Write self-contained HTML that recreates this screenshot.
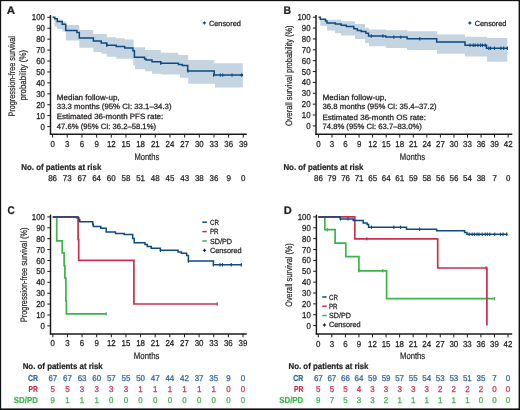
<!DOCTYPE html><html><head><meta charset="utf-8"><style>html,body{margin:0;padding:0;background:#fff;width:520px;height:410px;overflow:hidden;}svg{display:block;will-change:transform;}</style></head><body>
<svg width="520" height="410" viewBox="0 0 520 410" text-rendering="geometricPrecision" font-family='"Liberation Sans", sans-serif'>
<rect x="0" y="0" width="520" height="410" fill="#fff"/>
<path d="M52.6,17.6 H57.3 V19.4 H62.2 V21.3 H65.8 V25.1 H79.3 V30.0 H93.2 V34.1 H106.8 V37.2 H116.2 V38.2 H124.7 V39.5 H133.6 V47.3 H145 V49.9 H160.8 V52.7 H178.2 V54.9 H188.2 V59.9 H214.2 V63.3 H242.8 V87.4 H215 V83.8 H188.2 V77.7 H180 V74.6 H160.8 V73.7 H152 V71.3 H145 V69.3 H135 V65.4 H133.2 V58.7 H116.2 V56.7 H106.8 V53.8 H101.2 V52.0 H93.4 V47.8 H79.3 V40.6 H65.8 V31.5 H62.2 V29.0 H57.3 V26.5 H54.4 V18.0 H52.6 Z" fill="#c5d4e1" stroke="none"/>
<path d="M52.6,17.3 H54.8 V18.8 H57.3 V21.4 H62.2 V24.3 H65.7 V30.4 H76.9 V32.5 H79.3 V37.9 H93.4 V41.1 H101.2 V43.1 H106.8 V45.3 H116.2 V46.5 H124.7 V48.1 H132.9 V50.7 H134.4 V57.3 H144.6 V59.0 H146.1 V60.0 H152.0 V61.7 H160.8 V63.2 H178.4 V64.5 H182.3 V65.6 H187.7 V71.0 H214.2 V75.1 H242.5" stroke="#0c4a80" stroke-width="1.5" fill="none" stroke-linejoin="miter" stroke-linecap="butt"/>
<line x1="106.8" y1="43.599999999999994" x2="106.8" y2="47.0" stroke="#0c4a80" stroke-width="1.1"/>
<line x1="160.8" y1="61.5" x2="160.8" y2="64.9" stroke="#0c4a80" stroke-width="1.1"/>
<line x1="188.0" y1="69.3" x2="188.0" y2="72.7" stroke="#0c4a80" stroke-width="1.1"/>
<line x1="213.6" y1="73.39999999999999" x2="213.6" y2="76.8" stroke="#0c4a80" stroke-width="1.1"/>
<line x1="220.3" y1="73.39999999999999" x2="220.3" y2="76.8" stroke="#0c4a80" stroke-width="1.1"/>
<line x1="222.7" y1="73.39999999999999" x2="222.7" y2="76.8" stroke="#0c4a80" stroke-width="1.1"/>
<line x1="232" y1="73.39999999999999" x2="232" y2="76.8" stroke="#0c4a80" stroke-width="1.1"/>
<line x1="241.7" y1="73.39999999999999" x2="241.7" y2="76.8" stroke="#0c4a80" stroke-width="1.1"/>
<circle cx="241.8" cy="75.1" r="1.4" fill="#0c4a80"/>
<line x1="50.5" y1="15.0" x2="50.5" y2="134.79999999999998" stroke="#1a1a1a" stroke-width="1.45"/>
<line x1="49.85" y1="134.2" x2="246.8" y2="134.2" stroke="#1a1a1a" stroke-width="1.45"/>
<line x1="47.3" y1="17.3" x2="50.5" y2="17.3" stroke="#1a1a1a" stroke-width="1"/>
<line x1="47.3" y1="28.23" x2="50.5" y2="28.23" stroke="#1a1a1a" stroke-width="1"/>
<line x1="47.3" y1="39.16" x2="50.5" y2="39.16" stroke="#1a1a1a" stroke-width="1"/>
<line x1="47.3" y1="50.09" x2="50.5" y2="50.09" stroke="#1a1a1a" stroke-width="1"/>
<line x1="47.3" y1="61.019999999999996" x2="50.5" y2="61.019999999999996" stroke="#1a1a1a" stroke-width="1"/>
<line x1="47.3" y1="71.95" x2="50.5" y2="71.95" stroke="#1a1a1a" stroke-width="1"/>
<line x1="47.3" y1="82.88" x2="50.5" y2="82.88" stroke="#1a1a1a" stroke-width="1"/>
<line x1="47.3" y1="93.81" x2="50.5" y2="93.81" stroke="#1a1a1a" stroke-width="1"/>
<line x1="47.3" y1="104.74" x2="50.5" y2="104.74" stroke="#1a1a1a" stroke-width="1"/>
<line x1="47.3" y1="115.66999999999999" x2="50.5" y2="115.66999999999999" stroke="#1a1a1a" stroke-width="1"/>
<line x1="47.3" y1="126.6" x2="50.5" y2="126.6" stroke="#1a1a1a" stroke-width="1"/>
<line x1="52.6" y1="134.2" x2="52.6" y2="137.6" stroke="#1a1a1a" stroke-width="1"/>
<line x1="67.27" y1="134.2" x2="67.27" y2="137.6" stroke="#1a1a1a" stroke-width="1"/>
<line x1="81.94" y1="134.2" x2="81.94" y2="137.6" stroke="#1a1a1a" stroke-width="1"/>
<line x1="96.61" y1="134.2" x2="96.61" y2="137.6" stroke="#1a1a1a" stroke-width="1"/>
<line x1="111.28" y1="134.2" x2="111.28" y2="137.6" stroke="#1a1a1a" stroke-width="1"/>
<line x1="125.94999999999999" y1="134.2" x2="125.94999999999999" y2="137.6" stroke="#1a1a1a" stroke-width="1"/>
<line x1="140.62" y1="134.2" x2="140.62" y2="137.6" stroke="#1a1a1a" stroke-width="1"/>
<line x1="155.29" y1="134.2" x2="155.29" y2="137.6" stroke="#1a1a1a" stroke-width="1"/>
<line x1="169.96" y1="134.2" x2="169.96" y2="137.6" stroke="#1a1a1a" stroke-width="1"/>
<line x1="184.63" y1="134.2" x2="184.63" y2="137.6" stroke="#1a1a1a" stroke-width="1"/>
<line x1="199.29999999999998" y1="134.2" x2="199.29999999999998" y2="137.6" stroke="#1a1a1a" stroke-width="1"/>
<line x1="213.97" y1="134.2" x2="213.97" y2="137.6" stroke="#1a1a1a" stroke-width="1"/>
<line x1="228.64" y1="134.2" x2="228.64" y2="137.6" stroke="#1a1a1a" stroke-width="1"/>
<line x1="243.31" y1="134.2" x2="243.31" y2="137.6" stroke="#1a1a1a" stroke-width="1"/>
<text transform="translate(45.0,20.35) scale(0.92,1)" x="0" y="0" font-size="8.6" fill="#231f20" stroke="#231f20" stroke-width="0.26" text-anchor="end" font-weight="normal">100</text>
<text transform="translate(45.0,31.28) scale(0.92,1)" x="0" y="0" font-size="8.6" fill="#231f20" stroke="#231f20" stroke-width="0.26" text-anchor="end" font-weight="normal">90</text>
<text transform="translate(45.0,42.209999999999994) scale(0.92,1)" x="0" y="0" font-size="8.6" fill="#231f20" stroke="#231f20" stroke-width="0.26" text-anchor="end" font-weight="normal">80</text>
<text transform="translate(45.0,53.14) scale(0.92,1)" x="0" y="0" font-size="8.6" fill="#231f20" stroke="#231f20" stroke-width="0.26" text-anchor="end" font-weight="normal">70</text>
<text transform="translate(45.0,64.07) scale(0.92,1)" x="0" y="0" font-size="8.6" fill="#231f20" stroke="#231f20" stroke-width="0.26" text-anchor="end" font-weight="normal">60</text>
<text transform="translate(45.0,75.0) scale(0.92,1)" x="0" y="0" font-size="8.6" fill="#231f20" stroke="#231f20" stroke-width="0.26" text-anchor="end" font-weight="normal">50</text>
<text transform="translate(45.0,85.92999999999999) scale(0.92,1)" x="0" y="0" font-size="8.6" fill="#231f20" stroke="#231f20" stroke-width="0.26" text-anchor="end" font-weight="normal">40</text>
<text transform="translate(45.0,96.86) scale(0.92,1)" x="0" y="0" font-size="8.6" fill="#231f20" stroke="#231f20" stroke-width="0.26" text-anchor="end" font-weight="normal">30</text>
<text transform="translate(45.0,107.78999999999999) scale(0.92,1)" x="0" y="0" font-size="8.6" fill="#231f20" stroke="#231f20" stroke-width="0.26" text-anchor="end" font-weight="normal">20</text>
<text transform="translate(45.0,118.71999999999998) scale(0.92,1)" x="0" y="0" font-size="8.6" fill="#231f20" stroke="#231f20" stroke-width="0.26" text-anchor="end" font-weight="normal">10</text>
<text transform="translate(45.0,129.65) scale(0.92,1)" x="0" y="0" font-size="8.6" fill="#231f20" stroke="#231f20" stroke-width="0.26" text-anchor="end" font-weight="normal">0</text>
<text transform="translate(52.6,146.8) scale(0.92,1)" x="0" y="0" font-size="8.6" fill="#231f20" stroke="#231f20" stroke-width="0.26" text-anchor="middle" font-weight="normal">0</text>
<text transform="translate(67.27,146.8) scale(0.92,1)" x="0" y="0" font-size="8.6" fill="#231f20" stroke="#231f20" stroke-width="0.26" text-anchor="middle" font-weight="normal">3</text>
<text transform="translate(81.94,146.8) scale(0.92,1)" x="0" y="0" font-size="8.6" fill="#231f20" stroke="#231f20" stroke-width="0.26" text-anchor="middle" font-weight="normal">6</text>
<text transform="translate(96.61,146.8) scale(0.92,1)" x="0" y="0" font-size="8.6" fill="#231f20" stroke="#231f20" stroke-width="0.26" text-anchor="middle" font-weight="normal">9</text>
<text transform="translate(111.28,146.8) scale(0.92,1)" x="0" y="0" font-size="8.6" fill="#231f20" stroke="#231f20" stroke-width="0.26" text-anchor="middle" font-weight="normal">12</text>
<text transform="translate(125.94999999999999,146.8) scale(0.92,1)" x="0" y="0" font-size="8.6" fill="#231f20" stroke="#231f20" stroke-width="0.26" text-anchor="middle" font-weight="normal">15</text>
<text transform="translate(140.62,146.8) scale(0.92,1)" x="0" y="0" font-size="8.6" fill="#231f20" stroke="#231f20" stroke-width="0.26" text-anchor="middle" font-weight="normal">18</text>
<text transform="translate(155.29,146.8) scale(0.92,1)" x="0" y="0" font-size="8.6" fill="#231f20" stroke="#231f20" stroke-width="0.26" text-anchor="middle" font-weight="normal">21</text>
<text transform="translate(169.96,146.8) scale(0.92,1)" x="0" y="0" font-size="8.6" fill="#231f20" stroke="#231f20" stroke-width="0.26" text-anchor="middle" font-weight="normal">24</text>
<text transform="translate(184.63,146.8) scale(0.92,1)" x="0" y="0" font-size="8.6" fill="#231f20" stroke="#231f20" stroke-width="0.26" text-anchor="middle" font-weight="normal">27</text>
<text transform="translate(199.29999999999998,146.8) scale(0.92,1)" x="0" y="0" font-size="8.6" fill="#231f20" stroke="#231f20" stroke-width="0.26" text-anchor="middle" font-weight="normal">30</text>
<text transform="translate(213.97,146.8) scale(0.92,1)" x="0" y="0" font-size="8.6" fill="#231f20" stroke="#231f20" stroke-width="0.26" text-anchor="middle" font-weight="normal">33</text>
<text transform="translate(228.64,146.8) scale(0.92,1)" x="0" y="0" font-size="8.6" fill="#231f20" stroke="#231f20" stroke-width="0.26" text-anchor="middle" font-weight="normal">36</text>
<text transform="translate(243.31,146.8) scale(0.92,1)" x="0" y="0" font-size="8.6" fill="#231f20" stroke="#231f20" stroke-width="0.26" text-anchor="middle" font-weight="normal">39</text>
<text x="6.8" y="14.2" font-size="11" fill="#231f20" stroke="#231f20" stroke-width="0.22" text-anchor="start" font-weight="bold" textLength="8.3" lengthAdjust="spacingAndGlyphs">A</text>
<text transform="translate(15.0,76.3) rotate(-90)" x="0" y="0" font-size="9.4" fill="#231f20" stroke="#231f20" stroke-width="0.2" text-anchor="middle" textLength="80.5" lengthAdjust="spacingAndGlyphs">Progression-free survival</text>
<text transform="translate(26.0,75.2) rotate(-90)" x="0" y="0" font-size="9.4" fill="#231f20" stroke="#231f20" stroke-width="0.2" text-anchor="middle" textLength="50.5" lengthAdjust="spacingAndGlyphs">probability (%)</text>
<text x="134.4" y="159.8" font-size="9.4" fill="#231f20" stroke="#231f20" stroke-width="0.2" text-anchor="start" font-weight="normal" textLength="24.8" lengthAdjust="spacingAndGlyphs">Months</text>
<path d="M202.70000000000002,22.9 H206.1 M204.4,21.2 V24.599999999999998" stroke="#0c4a80" stroke-width="0.9" fill="none"/>
<rect x="203.5" y="22.0" width="1.8" height="1.8" fill="#0c4a80"/>
<text x="209.0" y="25.6" font-size="7.5" fill="#231f20" stroke="#231f20" stroke-width="0.26" text-anchor="start" font-weight="normal" textLength="31.8" lengthAdjust="spacingAndGlyphs">Censored</text>
<text x="56.8" y="99.5" font-size="7.7" fill="#231f20" stroke="#231f20" stroke-width="0.26" text-anchor="start" font-weight="normal" textLength="62.8" lengthAdjust="spacingAndGlyphs">Median follow-up,</text>
<text x="56.8" y="109.1" font-size="7.7" fill="#231f20" stroke="#231f20" stroke-width="0.26" text-anchor="start" font-weight="normal" textLength="114.7" lengthAdjust="spacingAndGlyphs">33.3 months (95% CI: 33.1–34.3)</text>
<text x="56.8" y="119.4" font-size="7.7" fill="#231f20" stroke="#231f20" stroke-width="0.26" text-anchor="start" font-weight="normal" textLength="106.4" lengthAdjust="spacingAndGlyphs">Estimated 36-month PFS rate:</text>
<text x="56.8" y="129.0" font-size="7.7" fill="#231f20" stroke="#231f20" stroke-width="0.26" text-anchor="start" font-weight="normal" textLength="99.2" lengthAdjust="spacingAndGlyphs">47.6% (95% CI: 36.2–58.1%)</text>
<text x="21.3" y="169.8" font-size="8.5" fill="#231f20" stroke="#231f20" stroke-width="0.22" text-anchor="start" font-weight="bold" textLength="80.0" lengthAdjust="spacingAndGlyphs">No. of patients at risk</text>
<text transform="translate(52.6,181.2) scale(0.95,1)" x="0" y="0" font-size="8.4" fill="#231f20" stroke="#231f20" stroke-width="0.26" text-anchor="middle" font-weight="normal">86</text>
<text transform="translate(67.27,181.2) scale(0.95,1)" x="0" y="0" font-size="8.4" fill="#231f20" stroke="#231f20" stroke-width="0.26" text-anchor="middle" font-weight="normal">73</text>
<text transform="translate(81.94,181.2) scale(0.95,1)" x="0" y="0" font-size="8.4" fill="#231f20" stroke="#231f20" stroke-width="0.26" text-anchor="middle" font-weight="normal">67</text>
<text transform="translate(96.61,181.2) scale(0.95,1)" x="0" y="0" font-size="8.4" fill="#231f20" stroke="#231f20" stroke-width="0.26" text-anchor="middle" font-weight="normal">64</text>
<text transform="translate(111.28,181.2) scale(0.95,1)" x="0" y="0" font-size="8.4" fill="#231f20" stroke="#231f20" stroke-width="0.26" text-anchor="middle" font-weight="normal">60</text>
<text transform="translate(125.94999999999999,181.2) scale(0.95,1)" x="0" y="0" font-size="8.4" fill="#231f20" stroke="#231f20" stroke-width="0.26" text-anchor="middle" font-weight="normal">58</text>
<text transform="translate(140.62,181.2) scale(0.95,1)" x="0" y="0" font-size="8.4" fill="#231f20" stroke="#231f20" stroke-width="0.26" text-anchor="middle" font-weight="normal">51</text>
<text transform="translate(155.29,181.2) scale(0.95,1)" x="0" y="0" font-size="8.4" fill="#231f20" stroke="#231f20" stroke-width="0.26" text-anchor="middle" font-weight="normal">48</text>
<text transform="translate(169.96,181.2) scale(0.95,1)" x="0" y="0" font-size="8.4" fill="#231f20" stroke="#231f20" stroke-width="0.26" text-anchor="middle" font-weight="normal">45</text>
<text transform="translate(184.63,181.2) scale(0.95,1)" x="0" y="0" font-size="8.4" fill="#231f20" stroke="#231f20" stroke-width="0.26" text-anchor="middle" font-weight="normal">43</text>
<text transform="translate(199.29999999999998,181.2) scale(0.95,1)" x="0" y="0" font-size="8.4" fill="#231f20" stroke="#231f20" stroke-width="0.26" text-anchor="middle" font-weight="normal">38</text>
<text transform="translate(213.97,181.2) scale(0.95,1)" x="0" y="0" font-size="8.4" fill="#231f20" stroke="#231f20" stroke-width="0.26" text-anchor="middle" font-weight="normal">36</text>
<text transform="translate(228.64,181.2) scale(0.95,1)" x="0" y="0" font-size="8.4" fill="#231f20" stroke="#231f20" stroke-width="0.26" text-anchor="middle" font-weight="normal">9</text>
<text transform="translate(243.31,181.2) scale(0.95,1)" x="0" y="0" font-size="8.4" fill="#231f20" stroke="#231f20" stroke-width="0.26" text-anchor="middle" font-weight="normal">0</text>
<path d="M318.5,17.5 H320.3 V19.2 H327 V19.8 H341 V21.2 H355 V24.1 H365 V27.8 H369 V29.4 H386 V30.2 H407 V31.3 H437 V34.4 H465 V36.7 H487 V38.1 H507.3 V61.7 H487 V56.6 H465 V53.8 H437 V50.0 H407 V48.1 H386 V46.3 H369 V43.0 H365 V39.1 H355 V35.6 H341 V33.3 H335 V30.5 H327 V25.8 H320.3 V18.0 H318.5 Z" fill="#c5d4e1" stroke="none"/>
<path d="M318.5,17.2 H320.3 V19.2 H325.5 V21.0 H327.0 V23.0 H335.3 V24.1 H341.1 V25.3 H346.3 V26.6 H353.8 V28.7 H357.3 V30.5 H361.3 V31.6 H365.9 V33.3 H368.5 V36.0 H385.8 V37.1 H407.1 V38.8 H436.7 V42.1 H465.0 V45.3 H486.5 V48.2 H508" stroke="#0c4a80" stroke-width="1.5" fill="none" stroke-linejoin="miter" stroke-linecap="butt"/>
<line x1="371.3" y1="34.3" x2="371.3" y2="37.7" stroke="#0c4a80" stroke-width="1.1"/>
<line x1="382.9" y1="34.3" x2="382.9" y2="37.7" stroke="#0c4a80" stroke-width="1.1"/>
<line x1="393.8" y1="35.4" x2="393.8" y2="38.800000000000004" stroke="#0c4a80" stroke-width="1.1"/>
<line x1="400.8" y1="35.4" x2="400.8" y2="38.800000000000004" stroke="#0c4a80" stroke-width="1.1"/>
<line x1="419.8" y1="37.099999999999994" x2="419.8" y2="40.5" stroke="#0c4a80" stroke-width="1.1"/>
<line x1="470" y1="43.599999999999994" x2="470" y2="47.0" stroke="#0c4a80" stroke-width="1.1"/>
<line x1="473.2" y1="43.599999999999994" x2="473.2" y2="47.0" stroke="#0c4a80" stroke-width="1.1"/>
<line x1="475.1" y1="43.599999999999994" x2="475.1" y2="47.0" stroke="#0c4a80" stroke-width="1.1"/>
<line x1="477.9" y1="43.599999999999994" x2="477.9" y2="47.0" stroke="#0c4a80" stroke-width="1.1"/>
<line x1="480.6" y1="43.599999999999994" x2="480.6" y2="47.0" stroke="#0c4a80" stroke-width="1.1"/>
<line x1="482.5" y1="43.599999999999994" x2="482.5" y2="47.0" stroke="#0c4a80" stroke-width="1.1"/>
<line x1="485.2" y1="43.599999999999994" x2="485.2" y2="47.0" stroke="#0c4a80" stroke-width="1.1"/>
<line x1="488.8" y1="46.5" x2="488.8" y2="49.900000000000006" stroke="#0c4a80" stroke-width="1.1"/>
<line x1="490.5" y1="46.5" x2="490.5" y2="49.900000000000006" stroke="#0c4a80" stroke-width="1.1"/>
<line x1="494.5" y1="46.5" x2="494.5" y2="49.900000000000006" stroke="#0c4a80" stroke-width="1.1"/>
<line x1="500.9" y1="46.5" x2="500.9" y2="49.900000000000006" stroke="#0c4a80" stroke-width="1.1"/>
<line x1="503.7" y1="46.5" x2="503.7" y2="49.900000000000006" stroke="#0c4a80" stroke-width="1.1"/>
<line x1="507.4" y1="46.5" x2="507.4" y2="49.900000000000006" stroke="#0c4a80" stroke-width="1.1"/>
<line x1="316.0" y1="15.0" x2="316.0" y2="134.79999999999998" stroke="#1a1a1a" stroke-width="1.45"/>
<line x1="315.35" y1="134.2" x2="512.3" y2="134.2" stroke="#1a1a1a" stroke-width="1.45"/>
<line x1="312.8" y1="17.2" x2="316.0" y2="17.2" stroke="#1a1a1a" stroke-width="1"/>
<line x1="312.8" y1="28.07" x2="316.0" y2="28.07" stroke="#1a1a1a" stroke-width="1"/>
<line x1="312.8" y1="38.94" x2="316.0" y2="38.94" stroke="#1a1a1a" stroke-width="1"/>
<line x1="312.8" y1="49.81" x2="316.0" y2="49.81" stroke="#1a1a1a" stroke-width="1"/>
<line x1="312.8" y1="60.68000000000001" x2="316.0" y2="60.68000000000001" stroke="#1a1a1a" stroke-width="1"/>
<line x1="312.8" y1="71.55" x2="316.0" y2="71.55" stroke="#1a1a1a" stroke-width="1"/>
<line x1="312.8" y1="82.42" x2="316.0" y2="82.42" stroke="#1a1a1a" stroke-width="1"/>
<line x1="312.8" y1="93.29" x2="316.0" y2="93.29" stroke="#1a1a1a" stroke-width="1"/>
<line x1="312.8" y1="104.16000000000001" x2="316.0" y2="104.16000000000001" stroke="#1a1a1a" stroke-width="1"/>
<line x1="312.8" y1="115.03000000000002" x2="316.0" y2="115.03000000000002" stroke="#1a1a1a" stroke-width="1"/>
<line x1="312.8" y1="125.9" x2="316.0" y2="125.9" stroke="#1a1a1a" stroke-width="1"/>
<line x1="318.45" y1="134.2" x2="318.45" y2="137.6" stroke="#1a1a1a" stroke-width="1"/>
<line x1="332.0" y1="134.2" x2="332.0" y2="137.6" stroke="#1a1a1a" stroke-width="1"/>
<line x1="345.55" y1="134.2" x2="345.55" y2="137.6" stroke="#1a1a1a" stroke-width="1"/>
<line x1="359.1" y1="134.2" x2="359.1" y2="137.6" stroke="#1a1a1a" stroke-width="1"/>
<line x1="372.65" y1="134.2" x2="372.65" y2="137.6" stroke="#1a1a1a" stroke-width="1"/>
<line x1="386.2" y1="134.2" x2="386.2" y2="137.6" stroke="#1a1a1a" stroke-width="1"/>
<line x1="399.75" y1="134.2" x2="399.75" y2="137.6" stroke="#1a1a1a" stroke-width="1"/>
<line x1="413.3" y1="134.2" x2="413.3" y2="137.6" stroke="#1a1a1a" stroke-width="1"/>
<line x1="426.85" y1="134.2" x2="426.85" y2="137.6" stroke="#1a1a1a" stroke-width="1"/>
<line x1="440.4" y1="134.2" x2="440.4" y2="137.6" stroke="#1a1a1a" stroke-width="1"/>
<line x1="453.95" y1="134.2" x2="453.95" y2="137.6" stroke="#1a1a1a" stroke-width="1"/>
<line x1="467.5" y1="134.2" x2="467.5" y2="137.6" stroke="#1a1a1a" stroke-width="1"/>
<line x1="481.05" y1="134.2" x2="481.05" y2="137.6" stroke="#1a1a1a" stroke-width="1"/>
<line x1="494.6" y1="134.2" x2="494.6" y2="137.6" stroke="#1a1a1a" stroke-width="1"/>
<line x1="508.15" y1="134.2" x2="508.15" y2="137.6" stroke="#1a1a1a" stroke-width="1"/>
<text transform="translate(310.6,20.25) scale(0.92,1)" x="0" y="0" font-size="8.6" fill="#231f20" stroke="#231f20" stroke-width="0.26" text-anchor="end" font-weight="normal">100</text>
<text transform="translate(310.6,31.12) scale(0.92,1)" x="0" y="0" font-size="8.6" fill="#231f20" stroke="#231f20" stroke-width="0.26" text-anchor="end" font-weight="normal">90</text>
<text transform="translate(310.6,41.989999999999995) scale(0.92,1)" x="0" y="0" font-size="8.6" fill="#231f20" stroke="#231f20" stroke-width="0.26" text-anchor="end" font-weight="normal">80</text>
<text transform="translate(310.6,52.86) scale(0.92,1)" x="0" y="0" font-size="8.6" fill="#231f20" stroke="#231f20" stroke-width="0.26" text-anchor="end" font-weight="normal">70</text>
<text transform="translate(310.6,63.730000000000004) scale(0.92,1)" x="0" y="0" font-size="8.6" fill="#231f20" stroke="#231f20" stroke-width="0.26" text-anchor="end" font-weight="normal">60</text>
<text transform="translate(310.6,74.6) scale(0.92,1)" x="0" y="0" font-size="8.6" fill="#231f20" stroke="#231f20" stroke-width="0.26" text-anchor="end" font-weight="normal">50</text>
<text transform="translate(310.6,85.47) scale(0.92,1)" x="0" y="0" font-size="8.6" fill="#231f20" stroke="#231f20" stroke-width="0.26" text-anchor="end" font-weight="normal">40</text>
<text transform="translate(310.6,96.34) scale(0.92,1)" x="0" y="0" font-size="8.6" fill="#231f20" stroke="#231f20" stroke-width="0.26" text-anchor="end" font-weight="normal">30</text>
<text transform="translate(310.6,107.21000000000001) scale(0.92,1)" x="0" y="0" font-size="8.6" fill="#231f20" stroke="#231f20" stroke-width="0.26" text-anchor="end" font-weight="normal">20</text>
<text transform="translate(310.6,118.08000000000001) scale(0.92,1)" x="0" y="0" font-size="8.6" fill="#231f20" stroke="#231f20" stroke-width="0.26" text-anchor="end" font-weight="normal">10</text>
<text transform="translate(310.6,128.95000000000002) scale(0.92,1)" x="0" y="0" font-size="8.6" fill="#231f20" stroke="#231f20" stroke-width="0.26" text-anchor="end" font-weight="normal">0</text>
<text transform="translate(318.45,146.8) scale(0.92,1)" x="0" y="0" font-size="8.6" fill="#231f20" stroke="#231f20" stroke-width="0.26" text-anchor="middle" font-weight="normal">0</text>
<text transform="translate(332.0,146.8) scale(0.92,1)" x="0" y="0" font-size="8.6" fill="#231f20" stroke="#231f20" stroke-width="0.26" text-anchor="middle" font-weight="normal">3</text>
<text transform="translate(345.55,146.8) scale(0.92,1)" x="0" y="0" font-size="8.6" fill="#231f20" stroke="#231f20" stroke-width="0.26" text-anchor="middle" font-weight="normal">6</text>
<text transform="translate(359.1,146.8) scale(0.92,1)" x="0" y="0" font-size="8.6" fill="#231f20" stroke="#231f20" stroke-width="0.26" text-anchor="middle" font-weight="normal">9</text>
<text transform="translate(372.65,146.8) scale(0.92,1)" x="0" y="0" font-size="8.6" fill="#231f20" stroke="#231f20" stroke-width="0.26" text-anchor="middle" font-weight="normal">12</text>
<text transform="translate(386.2,146.8) scale(0.92,1)" x="0" y="0" font-size="8.6" fill="#231f20" stroke="#231f20" stroke-width="0.26" text-anchor="middle" font-weight="normal">15</text>
<text transform="translate(399.75,146.8) scale(0.92,1)" x="0" y="0" font-size="8.6" fill="#231f20" stroke="#231f20" stroke-width="0.26" text-anchor="middle" font-weight="normal">18</text>
<text transform="translate(413.3,146.8) scale(0.92,1)" x="0" y="0" font-size="8.6" fill="#231f20" stroke="#231f20" stroke-width="0.26" text-anchor="middle" font-weight="normal">21</text>
<text transform="translate(426.85,146.8) scale(0.92,1)" x="0" y="0" font-size="8.6" fill="#231f20" stroke="#231f20" stroke-width="0.26" text-anchor="middle" font-weight="normal">24</text>
<text transform="translate(440.4,146.8) scale(0.92,1)" x="0" y="0" font-size="8.6" fill="#231f20" stroke="#231f20" stroke-width="0.26" text-anchor="middle" font-weight="normal">27</text>
<text transform="translate(453.95,146.8) scale(0.92,1)" x="0" y="0" font-size="8.6" fill="#231f20" stroke="#231f20" stroke-width="0.26" text-anchor="middle" font-weight="normal">30</text>
<text transform="translate(467.5,146.8) scale(0.92,1)" x="0" y="0" font-size="8.6" fill="#231f20" stroke="#231f20" stroke-width="0.26" text-anchor="middle" font-weight="normal">33</text>
<text transform="translate(481.05,146.8) scale(0.92,1)" x="0" y="0" font-size="8.6" fill="#231f20" stroke="#231f20" stroke-width="0.26" text-anchor="middle" font-weight="normal">36</text>
<text transform="translate(494.6,146.8) scale(0.92,1)" x="0" y="0" font-size="8.6" fill="#231f20" stroke="#231f20" stroke-width="0.26" text-anchor="middle" font-weight="normal">39</text>
<text transform="translate(508.15,146.8) scale(0.92,1)" x="0" y="0" font-size="8.6" fill="#231f20" stroke="#231f20" stroke-width="0.26" text-anchor="middle" font-weight="normal">42</text>
<text x="283.6" y="14.1" font-size="11" fill="#231f20" stroke="#231f20" stroke-width="0.22" text-anchor="start" font-weight="bold" textLength="7.6" lengthAdjust="spacingAndGlyphs">B</text>
<text transform="translate(292.0,75.7) rotate(-90)" x="0" y="0" font-size="9.4" fill="#231f20" stroke="#231f20" stroke-width="0.2" text-anchor="middle" textLength="100.6" lengthAdjust="spacingAndGlyphs">Overall survival probability (%)</text>
<text x="399.8" y="159.8" font-size="9.4" fill="#231f20" stroke="#231f20" stroke-width="0.2" text-anchor="start" font-weight="normal" textLength="25.2" lengthAdjust="spacingAndGlyphs">Months</text>
<path d="M468.1,23.0 H471.5 M469.8,21.3 V24.7" stroke="#0c4a80" stroke-width="0.9" fill="none"/>
<rect x="468.90000000000003" y="22.1" width="1.8" height="1.8" fill="#0c4a80"/>
<text x="474.8" y="25.6" font-size="7.5" fill="#231f20" stroke="#231f20" stroke-width="0.26" text-anchor="start" font-weight="normal" textLength="31.6" lengthAdjust="spacingAndGlyphs">Censored</text>
<text x="322.5" y="99.5" font-size="7.7" fill="#231f20" stroke="#231f20" stroke-width="0.26" text-anchor="start" font-weight="normal" textLength="64.0" lengthAdjust="spacingAndGlyphs">Median follow-up,</text>
<text x="322.5" y="108.9" font-size="7.7" fill="#231f20" stroke="#231f20" stroke-width="0.26" text-anchor="start" font-weight="normal" textLength="114.1" lengthAdjust="spacingAndGlyphs">36.8 months (95% CI: 35.4–37.2)</text>
<text x="322.5" y="119.5" font-size="7.7" fill="#231f20" stroke="#231f20" stroke-width="0.26" text-anchor="start" font-weight="normal" textLength="103.4" lengthAdjust="spacingAndGlyphs">Estimated 36-month OS rate:</text>
<text x="322.5" y="128.6" font-size="7.7" fill="#231f20" stroke="#231f20" stroke-width="0.26" text-anchor="start" font-weight="normal" textLength="99.3" lengthAdjust="spacingAndGlyphs">74.8% (95% CI: 63.7–83.0%)</text>
<text x="283.4" y="169.8" font-size="8.5" fill="#231f20" stroke="#231f20" stroke-width="0.22" text-anchor="start" font-weight="bold" textLength="80.1" lengthAdjust="spacingAndGlyphs">No. of patients at risk</text>
<text transform="translate(318.45,181.3) scale(0.95,1)" x="0" y="0" font-size="8.4" fill="#231f20" stroke="#231f20" stroke-width="0.26" text-anchor="middle" font-weight="normal">86</text>
<text transform="translate(332.0,181.3) scale(0.95,1)" x="0" y="0" font-size="8.4" fill="#231f20" stroke="#231f20" stroke-width="0.26" text-anchor="middle" font-weight="normal">79</text>
<text transform="translate(345.55,181.3) scale(0.95,1)" x="0" y="0" font-size="8.4" fill="#231f20" stroke="#231f20" stroke-width="0.26" text-anchor="middle" font-weight="normal">76</text>
<text transform="translate(359.1,181.3) scale(0.95,1)" x="0" y="0" font-size="8.4" fill="#231f20" stroke="#231f20" stroke-width="0.26" text-anchor="middle" font-weight="normal">71</text>
<text transform="translate(372.65,181.3) scale(0.95,1)" x="0" y="0" font-size="8.4" fill="#231f20" stroke="#231f20" stroke-width="0.26" text-anchor="middle" font-weight="normal">65</text>
<text transform="translate(386.2,181.3) scale(0.95,1)" x="0" y="0" font-size="8.4" fill="#231f20" stroke="#231f20" stroke-width="0.26" text-anchor="middle" font-weight="normal">64</text>
<text transform="translate(399.75,181.3) scale(0.95,1)" x="0" y="0" font-size="8.4" fill="#231f20" stroke="#231f20" stroke-width="0.26" text-anchor="middle" font-weight="normal">61</text>
<text transform="translate(413.3,181.3) scale(0.95,1)" x="0" y="0" font-size="8.4" fill="#231f20" stroke="#231f20" stroke-width="0.26" text-anchor="middle" font-weight="normal">59</text>
<text transform="translate(426.85,181.3) scale(0.95,1)" x="0" y="0" font-size="8.4" fill="#231f20" stroke="#231f20" stroke-width="0.26" text-anchor="middle" font-weight="normal">58</text>
<text transform="translate(440.4,181.3) scale(0.95,1)" x="0" y="0" font-size="8.4" fill="#231f20" stroke="#231f20" stroke-width="0.26" text-anchor="middle" font-weight="normal">56</text>
<text transform="translate(453.95,181.3) scale(0.95,1)" x="0" y="0" font-size="8.4" fill="#231f20" stroke="#231f20" stroke-width="0.26" text-anchor="middle" font-weight="normal">56</text>
<text transform="translate(467.5,181.3) scale(0.95,1)" x="0" y="0" font-size="8.4" fill="#231f20" stroke="#231f20" stroke-width="0.26" text-anchor="middle" font-weight="normal">54</text>
<text transform="translate(481.05,181.3) scale(0.95,1)" x="0" y="0" font-size="8.4" fill="#231f20" stroke="#231f20" stroke-width="0.26" text-anchor="middle" font-weight="normal">38</text>
<text transform="translate(494.6,181.3) scale(0.95,1)" x="0" y="0" font-size="8.4" fill="#231f20" stroke="#231f20" stroke-width="0.26" text-anchor="middle" font-weight="normal">7</text>
<text transform="translate(508.15,181.3) scale(0.95,1)" x="0" y="0" font-size="8.4" fill="#231f20" stroke="#231f20" stroke-width="0.26" text-anchor="middle" font-weight="normal">0</text>
<path d="M52.8,216.9 H56.7 V240.8 H62.2 V252.9 H64.1 V265.6 H64.9 V277.8 H65.9 V301.2 H66.4 V313.9 H106.5" stroke="#3cb44b" stroke-width="1.7" fill="none" stroke-linejoin="miter" stroke-linecap="butt"/>
<line x1="106.2" y1="312.2" x2="106.2" y2="315.59999999999997" stroke="#3cb44b" stroke-width="1.1"/>
<path d="M52.8,216.9 H78.1 V239.3 H78.7 V260.4 H133.9 V304.0 H217.5" stroke="#c82f50" stroke-width="1.7" fill="none" stroke-linejoin="miter" stroke-linecap="butt"/>
<line x1="217.2" y1="302.3" x2="217.2" y2="305.7" stroke="#c82f50" stroke-width="1.1"/>
<path d="M52.8,216.9 H76.5 V217.8 H78.8 V219.8 H79.8 V221.8 H92.7 V224.2 H93.3 V226.4 H100.8 V228.2 H106.2 V232.0 H115.5 V233.5 H124.2 V234.6 H132.7 V238.5 H134.2 V242.8 H145.0 V244.6 H147.3 V246.6 H151.2 V248.2 H160.4 V250.2 H178.0 V252.0 H181.4 V253.2 H186.6 V255.4 H188.4 V261.0 H213.4 V264.8 H242" stroke="#0c4a80" stroke-width="1.5" fill="none" stroke-linejoin="miter" stroke-linecap="butt"/>
<line x1="160.4" y1="248.5" x2="160.4" y2="251.89999999999998" stroke="#0c4a80" stroke-width="1.1"/>
<line x1="188.4" y1="259.3" x2="188.4" y2="262.7" stroke="#0c4a80" stroke-width="1.1"/>
<line x1="213.4" y1="263.1" x2="213.4" y2="266.5" stroke="#0c4a80" stroke-width="1.1"/>
<line x1="220" y1="263.1" x2="220" y2="266.5" stroke="#0c4a80" stroke-width="1.1"/>
<line x1="222.5" y1="263.1" x2="222.5" y2="266.5" stroke="#0c4a80" stroke-width="1.1"/>
<line x1="231.3" y1="263.1" x2="231.3" y2="266.5" stroke="#0c4a80" stroke-width="1.1"/>
<line x1="241.3" y1="263.1" x2="241.3" y2="266.5" stroke="#0c4a80" stroke-width="1.1"/>
<line x1="50.5" y1="214.6" x2="50.5" y2="334.5" stroke="#1a1a1a" stroke-width="1.45"/>
<line x1="49.85" y1="333.9" x2="246.8" y2="333.9" stroke="#1a1a1a" stroke-width="1.45"/>
<line x1="47.3" y1="216.9" x2="50.5" y2="216.9" stroke="#1a1a1a" stroke-width="1"/>
<line x1="47.3" y1="227.8" x2="50.5" y2="227.8" stroke="#1a1a1a" stroke-width="1"/>
<line x1="47.3" y1="238.7" x2="50.5" y2="238.7" stroke="#1a1a1a" stroke-width="1"/>
<line x1="47.3" y1="249.6" x2="50.5" y2="249.6" stroke="#1a1a1a" stroke-width="1"/>
<line x1="47.3" y1="260.5" x2="50.5" y2="260.5" stroke="#1a1a1a" stroke-width="1"/>
<line x1="47.3" y1="271.4" x2="50.5" y2="271.4" stroke="#1a1a1a" stroke-width="1"/>
<line x1="47.3" y1="282.29999999999995" x2="50.5" y2="282.29999999999995" stroke="#1a1a1a" stroke-width="1"/>
<line x1="47.3" y1="293.2" x2="50.5" y2="293.2" stroke="#1a1a1a" stroke-width="1"/>
<line x1="47.3" y1="304.09999999999997" x2="50.5" y2="304.09999999999997" stroke="#1a1a1a" stroke-width="1"/>
<line x1="47.3" y1="315.0" x2="50.5" y2="315.0" stroke="#1a1a1a" stroke-width="1"/>
<line x1="47.3" y1="325.9" x2="50.5" y2="325.9" stroke="#1a1a1a" stroke-width="1"/>
<line x1="52.8" y1="333.9" x2="52.8" y2="337.29999999999995" stroke="#1a1a1a" stroke-width="1"/>
<line x1="67.42999999999999" y1="333.9" x2="67.42999999999999" y2="337.29999999999995" stroke="#1a1a1a" stroke-width="1"/>
<line x1="82.06" y1="333.9" x2="82.06" y2="337.29999999999995" stroke="#1a1a1a" stroke-width="1"/>
<line x1="96.69" y1="333.9" x2="96.69" y2="337.29999999999995" stroke="#1a1a1a" stroke-width="1"/>
<line x1="111.32" y1="333.9" x2="111.32" y2="337.29999999999995" stroke="#1a1a1a" stroke-width="1"/>
<line x1="125.95" y1="333.9" x2="125.95" y2="337.29999999999995" stroke="#1a1a1a" stroke-width="1"/>
<line x1="140.57999999999998" y1="333.9" x2="140.57999999999998" y2="337.29999999999995" stroke="#1a1a1a" stroke-width="1"/>
<line x1="155.21" y1="333.9" x2="155.21" y2="337.29999999999995" stroke="#1a1a1a" stroke-width="1"/>
<line x1="169.84" y1="333.9" x2="169.84" y2="337.29999999999995" stroke="#1a1a1a" stroke-width="1"/>
<line x1="184.47000000000003" y1="333.9" x2="184.47000000000003" y2="337.29999999999995" stroke="#1a1a1a" stroke-width="1"/>
<line x1="199.10000000000002" y1="333.9" x2="199.10000000000002" y2="337.29999999999995" stroke="#1a1a1a" stroke-width="1"/>
<line x1="213.73000000000002" y1="333.9" x2="213.73000000000002" y2="337.29999999999995" stroke="#1a1a1a" stroke-width="1"/>
<line x1="228.36" y1="333.9" x2="228.36" y2="337.29999999999995" stroke="#1a1a1a" stroke-width="1"/>
<line x1="242.99" y1="333.9" x2="242.99" y2="337.29999999999995" stroke="#1a1a1a" stroke-width="1"/>
<text transform="translate(45.0,219.95000000000002) scale(0.92,1)" x="0" y="0" font-size="8.6" fill="#231f20" stroke="#231f20" stroke-width="0.26" text-anchor="end" font-weight="normal">100</text>
<text transform="translate(45.0,230.85000000000002) scale(0.92,1)" x="0" y="0" font-size="8.6" fill="#231f20" stroke="#231f20" stroke-width="0.26" text-anchor="end" font-weight="normal">90</text>
<text transform="translate(45.0,241.75) scale(0.92,1)" x="0" y="0" font-size="8.6" fill="#231f20" stroke="#231f20" stroke-width="0.26" text-anchor="end" font-weight="normal">80</text>
<text transform="translate(45.0,252.65) scale(0.92,1)" x="0" y="0" font-size="8.6" fill="#231f20" stroke="#231f20" stroke-width="0.26" text-anchor="end" font-weight="normal">70</text>
<text transform="translate(45.0,263.55) scale(0.92,1)" x="0" y="0" font-size="8.6" fill="#231f20" stroke="#231f20" stroke-width="0.26" text-anchor="end" font-weight="normal">60</text>
<text transform="translate(45.0,274.45) scale(0.92,1)" x="0" y="0" font-size="8.6" fill="#231f20" stroke="#231f20" stroke-width="0.26" text-anchor="end" font-weight="normal">50</text>
<text transform="translate(45.0,285.34999999999997) scale(0.92,1)" x="0" y="0" font-size="8.6" fill="#231f20" stroke="#231f20" stroke-width="0.26" text-anchor="end" font-weight="normal">40</text>
<text transform="translate(45.0,296.25) scale(0.92,1)" x="0" y="0" font-size="8.6" fill="#231f20" stroke="#231f20" stroke-width="0.26" text-anchor="end" font-weight="normal">30</text>
<text transform="translate(45.0,307.15) scale(0.92,1)" x="0" y="0" font-size="8.6" fill="#231f20" stroke="#231f20" stroke-width="0.26" text-anchor="end" font-weight="normal">20</text>
<text transform="translate(45.0,318.05) scale(0.92,1)" x="0" y="0" font-size="8.6" fill="#231f20" stroke="#231f20" stroke-width="0.26" text-anchor="end" font-weight="normal">10</text>
<text transform="translate(45.0,328.95) scale(0.92,1)" x="0" y="0" font-size="8.6" fill="#231f20" stroke="#231f20" stroke-width="0.26" text-anchor="end" font-weight="normal">0</text>
<text transform="translate(52.8,346.3) scale(0.92,1)" x="0" y="0" font-size="8.6" fill="#231f20" stroke="#231f20" stroke-width="0.26" text-anchor="middle" font-weight="normal">0</text>
<text transform="translate(67.42999999999999,346.3) scale(0.92,1)" x="0" y="0" font-size="8.6" fill="#231f20" stroke="#231f20" stroke-width="0.26" text-anchor="middle" font-weight="normal">3</text>
<text transform="translate(82.06,346.3) scale(0.92,1)" x="0" y="0" font-size="8.6" fill="#231f20" stroke="#231f20" stroke-width="0.26" text-anchor="middle" font-weight="normal">6</text>
<text transform="translate(96.69,346.3) scale(0.92,1)" x="0" y="0" font-size="8.6" fill="#231f20" stroke="#231f20" stroke-width="0.26" text-anchor="middle" font-weight="normal">9</text>
<text transform="translate(111.32,346.3) scale(0.92,1)" x="0" y="0" font-size="8.6" fill="#231f20" stroke="#231f20" stroke-width="0.26" text-anchor="middle" font-weight="normal">12</text>
<text transform="translate(125.95,346.3) scale(0.92,1)" x="0" y="0" font-size="8.6" fill="#231f20" stroke="#231f20" stroke-width="0.26" text-anchor="middle" font-weight="normal">15</text>
<text transform="translate(140.57999999999998,346.3) scale(0.92,1)" x="0" y="0" font-size="8.6" fill="#231f20" stroke="#231f20" stroke-width="0.26" text-anchor="middle" font-weight="normal">18</text>
<text transform="translate(155.21,346.3) scale(0.92,1)" x="0" y="0" font-size="8.6" fill="#231f20" stroke="#231f20" stroke-width="0.26" text-anchor="middle" font-weight="normal">21</text>
<text transform="translate(169.84,346.3) scale(0.92,1)" x="0" y="0" font-size="8.6" fill="#231f20" stroke="#231f20" stroke-width="0.26" text-anchor="middle" font-weight="normal">24</text>
<text transform="translate(184.47000000000003,346.3) scale(0.92,1)" x="0" y="0" font-size="8.6" fill="#231f20" stroke="#231f20" stroke-width="0.26" text-anchor="middle" font-weight="normal">27</text>
<text transform="translate(199.10000000000002,346.3) scale(0.92,1)" x="0" y="0" font-size="8.6" fill="#231f20" stroke="#231f20" stroke-width="0.26" text-anchor="middle" font-weight="normal">30</text>
<text transform="translate(213.73000000000002,346.3) scale(0.92,1)" x="0" y="0" font-size="8.6" fill="#231f20" stroke="#231f20" stroke-width="0.26" text-anchor="middle" font-weight="normal">33</text>
<text transform="translate(228.36,346.3) scale(0.92,1)" x="0" y="0" font-size="8.6" fill="#231f20" stroke="#231f20" stroke-width="0.26" text-anchor="middle" font-weight="normal">36</text>
<text transform="translate(242.99,346.3) scale(0.92,1)" x="0" y="0" font-size="8.6" fill="#231f20" stroke="#231f20" stroke-width="0.26" text-anchor="middle" font-weight="normal">39</text>
<text x="7.4" y="213.9" font-size="11" fill="#231f20" stroke="#231f20" stroke-width="0.22" text-anchor="start" font-weight="bold" textLength="7.2" lengthAdjust="spacingAndGlyphs">C</text>
<text transform="translate(26.6,274.8) rotate(-90)" x="0" y="0" font-size="9.4" fill="#231f20" stroke="#231f20" stroke-width="0.2" text-anchor="middle" textLength="94.5" lengthAdjust="spacingAndGlyphs">Progression-free survival (%)</text>
<text x="133.8" y="358.8" font-size="9.4" fill="#231f20" stroke="#231f20" stroke-width="0.2" text-anchor="start" font-weight="normal" textLength="25.6" lengthAdjust="spacingAndGlyphs">Months</text>
<line x1="202.3" y1="222.2" x2="206.8" y2="222.2" stroke="#0c4a80" stroke-width="1.5"/>
<line x1="202.3" y1="231.6" x2="206.8" y2="231.6" stroke="#c82f50" stroke-width="1.5"/>
<line x1="202.3" y1="241.0" x2="206.8" y2="241.0" stroke="#3cb44b" stroke-width="1.5"/>
<text x="209.9" y="224.9" font-size="7.5" fill="#231f20" stroke="#231f20" stroke-width="0.26" text-anchor="start" font-weight="normal" textLength="9.0" lengthAdjust="spacingAndGlyphs">CR</text>
<text x="209.9" y="234.2" font-size="7.5" fill="#231f20" stroke="#231f20" stroke-width="0.26" text-anchor="start" font-weight="normal" textLength="8.6" lengthAdjust="spacingAndGlyphs">PR</text>
<text x="209.9" y="243.5" font-size="7.5" fill="#231f20" stroke="#231f20" stroke-width="0.26" text-anchor="start" font-weight="normal" textLength="22.0" lengthAdjust="spacingAndGlyphs">SD/PD</text>
<path d="M202.8,250.4 H206.2 M204.5,248.70000000000002 V252.1" stroke="#231f20" stroke-width="0.9" fill="none"/>
<rect x="203.6" y="249.5" width="1.8" height="1.8" fill="#231f20"/>
<text x="209.9" y="252.7" font-size="7.5" fill="#231f20" stroke="#231f20" stroke-width="0.26" text-anchor="start" font-weight="normal" textLength="31.8" lengthAdjust="spacingAndGlyphs">Censored</text>
<text x="22.7" y="369.3" font-size="8.5" fill="#231f20" stroke="#231f20" stroke-width="0.22" text-anchor="start" font-weight="bold" textLength="80.0" lengthAdjust="spacingAndGlyphs">No. of patients at risk</text>
<text x="37.9" y="380.8" font-size="8.7" fill="#2f67a0" stroke="#2f67a0" stroke-width="0.22" text-anchor="end" font-weight="bold" textLength="10.0" lengthAdjust="spacingAndGlyphs">CR</text>
<text x="37.9" y="392.1" font-size="8.7" fill="#c82f50" stroke="#c82f50" stroke-width="0.22" text-anchor="end" font-weight="bold" textLength="9.4" lengthAdjust="spacingAndGlyphs">PR</text>
<text x="37.9" y="403.4" font-size="8.7" fill="#3cb44b" stroke="#3cb44b" stroke-width="0.22" text-anchor="end" font-weight="bold" textLength="24.1" lengthAdjust="spacingAndGlyphs">SD/PD</text>
<text transform="translate(52.8,380.8) scale(0.95,1)" x="0" y="0" font-size="8.4" fill="#2f67a0" stroke="#2f67a0" stroke-width="0.26" text-anchor="middle" font-weight="normal">67</text>
<text transform="translate(67.42999999999999,380.8) scale(0.95,1)" x="0" y="0" font-size="8.4" fill="#2f67a0" stroke="#2f67a0" stroke-width="0.26" text-anchor="middle" font-weight="normal">67</text>
<text transform="translate(82.06,380.8) scale(0.95,1)" x="0" y="0" font-size="8.4" fill="#2f67a0" stroke="#2f67a0" stroke-width="0.26" text-anchor="middle" font-weight="normal">63</text>
<text transform="translate(96.69,380.8) scale(0.95,1)" x="0" y="0" font-size="8.4" fill="#2f67a0" stroke="#2f67a0" stroke-width="0.26" text-anchor="middle" font-weight="normal">60</text>
<text transform="translate(111.32,380.8) scale(0.95,1)" x="0" y="0" font-size="8.4" fill="#2f67a0" stroke="#2f67a0" stroke-width="0.26" text-anchor="middle" font-weight="normal">57</text>
<text transform="translate(125.95,380.8) scale(0.95,1)" x="0" y="0" font-size="8.4" fill="#2f67a0" stroke="#2f67a0" stroke-width="0.26" text-anchor="middle" font-weight="normal">55</text>
<text transform="translate(140.57999999999998,380.8) scale(0.95,1)" x="0" y="0" font-size="8.4" fill="#2f67a0" stroke="#2f67a0" stroke-width="0.26" text-anchor="middle" font-weight="normal">50</text>
<text transform="translate(155.21,380.8) scale(0.95,1)" x="0" y="0" font-size="8.4" fill="#2f67a0" stroke="#2f67a0" stroke-width="0.26" text-anchor="middle" font-weight="normal">47</text>
<text transform="translate(169.84,380.8) scale(0.95,1)" x="0" y="0" font-size="8.4" fill="#2f67a0" stroke="#2f67a0" stroke-width="0.26" text-anchor="middle" font-weight="normal">44</text>
<text transform="translate(184.47000000000003,380.8) scale(0.95,1)" x="0" y="0" font-size="8.4" fill="#2f67a0" stroke="#2f67a0" stroke-width="0.26" text-anchor="middle" font-weight="normal">42</text>
<text transform="translate(199.10000000000002,380.8) scale(0.95,1)" x="0" y="0" font-size="8.4" fill="#2f67a0" stroke="#2f67a0" stroke-width="0.26" text-anchor="middle" font-weight="normal">37</text>
<text transform="translate(213.73000000000002,380.8) scale(0.95,1)" x="0" y="0" font-size="8.4" fill="#2f67a0" stroke="#2f67a0" stroke-width="0.26" text-anchor="middle" font-weight="normal">35</text>
<text transform="translate(228.36,380.8) scale(0.95,1)" x="0" y="0" font-size="8.4" fill="#2f67a0" stroke="#2f67a0" stroke-width="0.26" text-anchor="middle" font-weight="normal">9</text>
<text transform="translate(242.99,380.8) scale(0.95,1)" x="0" y="0" font-size="8.4" fill="#2f67a0" stroke="#2f67a0" stroke-width="0.26" text-anchor="middle" font-weight="normal">0</text>
<text transform="translate(52.8,392.1) scale(0.95,1)" x="0" y="0" font-size="8.4" fill="#c82f50" stroke="#c82f50" stroke-width="0.26" text-anchor="middle" font-weight="normal">5</text>
<text transform="translate(67.42999999999999,392.1) scale(0.95,1)" x="0" y="0" font-size="8.4" fill="#c82f50" stroke="#c82f50" stroke-width="0.26" text-anchor="middle" font-weight="normal">5</text>
<text transform="translate(82.06,392.1) scale(0.95,1)" x="0" y="0" font-size="8.4" fill="#c82f50" stroke="#c82f50" stroke-width="0.26" text-anchor="middle" font-weight="normal">3</text>
<text transform="translate(96.69,392.1) scale(0.95,1)" x="0" y="0" font-size="8.4" fill="#c82f50" stroke="#c82f50" stroke-width="0.26" text-anchor="middle" font-weight="normal">3</text>
<text transform="translate(111.32,392.1) scale(0.95,1)" x="0" y="0" font-size="8.4" fill="#c82f50" stroke="#c82f50" stroke-width="0.26" text-anchor="middle" font-weight="normal">3</text>
<text transform="translate(125.95,392.1) scale(0.95,1)" x="0" y="0" font-size="8.4" fill="#c82f50" stroke="#c82f50" stroke-width="0.26" text-anchor="middle" font-weight="normal">3</text>
<text transform="translate(140.57999999999998,392.1) scale(0.95,1)" x="0" y="0" font-size="8.4" fill="#c82f50" stroke="#c82f50" stroke-width="0.26" text-anchor="middle" font-weight="normal">1</text>
<text transform="translate(155.21,392.1) scale(0.95,1)" x="0" y="0" font-size="8.4" fill="#c82f50" stroke="#c82f50" stroke-width="0.26" text-anchor="middle" font-weight="normal">1</text>
<text transform="translate(169.84,392.1) scale(0.95,1)" x="0" y="0" font-size="8.4" fill="#c82f50" stroke="#c82f50" stroke-width="0.26" text-anchor="middle" font-weight="normal">1</text>
<text transform="translate(184.47000000000003,392.1) scale(0.95,1)" x="0" y="0" font-size="8.4" fill="#c82f50" stroke="#c82f50" stroke-width="0.26" text-anchor="middle" font-weight="normal">1</text>
<text transform="translate(199.10000000000002,392.1) scale(0.95,1)" x="0" y="0" font-size="8.4" fill="#c82f50" stroke="#c82f50" stroke-width="0.26" text-anchor="middle" font-weight="normal">1</text>
<text transform="translate(213.73000000000002,392.1) scale(0.95,1)" x="0" y="0" font-size="8.4" fill="#c82f50" stroke="#c82f50" stroke-width="0.26" text-anchor="middle" font-weight="normal">1</text>
<text transform="translate(228.36,392.1) scale(0.95,1)" x="0" y="0" font-size="8.4" fill="#c82f50" stroke="#c82f50" stroke-width="0.26" text-anchor="middle" font-weight="normal">0</text>
<text transform="translate(242.99,392.1) scale(0.95,1)" x="0" y="0" font-size="8.4" fill="#c82f50" stroke="#c82f50" stroke-width="0.26" text-anchor="middle" font-weight="normal">0</text>
<text transform="translate(52.8,403.3) scale(0.95,1)" x="0" y="0" font-size="8.4" fill="#3cb44b" stroke="#3cb44b" stroke-width="0.26" text-anchor="middle" font-weight="normal">9</text>
<text transform="translate(67.42999999999999,403.3) scale(0.95,1)" x="0" y="0" font-size="8.4" fill="#3cb44b" stroke="#3cb44b" stroke-width="0.26" text-anchor="middle" font-weight="normal">1</text>
<text transform="translate(82.06,403.3) scale(0.95,1)" x="0" y="0" font-size="8.4" fill="#3cb44b" stroke="#3cb44b" stroke-width="0.26" text-anchor="middle" font-weight="normal">1</text>
<text transform="translate(96.69,403.3) scale(0.95,1)" x="0" y="0" font-size="8.4" fill="#3cb44b" stroke="#3cb44b" stroke-width="0.26" text-anchor="middle" font-weight="normal">1</text>
<text transform="translate(111.32,403.3) scale(0.95,1)" x="0" y="0" font-size="8.4" fill="#3cb44b" stroke="#3cb44b" stroke-width="0.26" text-anchor="middle" font-weight="normal">0</text>
<text transform="translate(125.95,403.3) scale(0.95,1)" x="0" y="0" font-size="8.4" fill="#3cb44b" stroke="#3cb44b" stroke-width="0.26" text-anchor="middle" font-weight="normal">0</text>
<text transform="translate(140.57999999999998,403.3) scale(0.95,1)" x="0" y="0" font-size="8.4" fill="#3cb44b" stroke="#3cb44b" stroke-width="0.26" text-anchor="middle" font-weight="normal">0</text>
<text transform="translate(155.21,403.3) scale(0.95,1)" x="0" y="0" font-size="8.4" fill="#3cb44b" stroke="#3cb44b" stroke-width="0.26" text-anchor="middle" font-weight="normal">0</text>
<text transform="translate(169.84,403.3) scale(0.95,1)" x="0" y="0" font-size="8.4" fill="#3cb44b" stroke="#3cb44b" stroke-width="0.26" text-anchor="middle" font-weight="normal">0</text>
<text transform="translate(184.47000000000003,403.3) scale(0.95,1)" x="0" y="0" font-size="8.4" fill="#3cb44b" stroke="#3cb44b" stroke-width="0.26" text-anchor="middle" font-weight="normal">0</text>
<text transform="translate(199.10000000000002,403.3) scale(0.95,1)" x="0" y="0" font-size="8.4" fill="#3cb44b" stroke="#3cb44b" stroke-width="0.26" text-anchor="middle" font-weight="normal">0</text>
<text transform="translate(213.73000000000002,403.3) scale(0.95,1)" x="0" y="0" font-size="8.4" fill="#3cb44b" stroke="#3cb44b" stroke-width="0.26" text-anchor="middle" font-weight="normal">0</text>
<text transform="translate(228.36,403.3) scale(0.95,1)" x="0" y="0" font-size="8.4" fill="#3cb44b" stroke="#3cb44b" stroke-width="0.26" text-anchor="middle" font-weight="normal">0</text>
<text transform="translate(242.99,403.3) scale(0.95,1)" x="0" y="0" font-size="8.4" fill="#3cb44b" stroke="#3cb44b" stroke-width="0.26" text-anchor="middle" font-weight="normal">0</text>
<path d="M318.3,216.9 H324.8 V229.7 H335.1 V243.1 H345.8 V256.6 H358.9 V270.8 H386.6 V298.6 H495" stroke="#3cb44b" stroke-width="1.7" fill="none" stroke-linejoin="miter" stroke-linecap="butt"/>
<line x1="327.5" y1="228.0" x2="327.5" y2="231.39999999999998" stroke="#3cb44b" stroke-width="1.1"/>
<line x1="358.9" y1="269.1" x2="358.9" y2="272.5" stroke="#3cb44b" stroke-width="1.1"/>
<line x1="382.8" y1="269.1" x2="382.8" y2="272.5" stroke="#3cb44b" stroke-width="1.1"/>
<line x1="494.6" y1="296.90000000000003" x2="494.6" y2="300.3" stroke="#3cb44b" stroke-width="1.1"/>
<path d="M318.3,216.8 H354.8 V238.9 H437.7 V268.0 H486.9 V325.4" stroke="#c82f50" stroke-width="1.7" fill="none" stroke-linejoin="miter" stroke-linecap="butt"/>
<line x1="366.8" y1="237.20000000000002" x2="366.8" y2="240.6" stroke="#c82f50" stroke-width="1.1"/>
<line x1="486.2" y1="266.3" x2="486.2" y2="269.7" stroke="#c82f50" stroke-width="1.1"/>
<path d="M318.3,216.9 H340.2 V218.9 H353.2 V220.5 H363.2 V223.1 H367.1 V224.6 H368.6 V227.2 H406.5 V229.2 H436.6 V230.7 H464.6 V232.6 H466.9 V234.3 H507.7" stroke="#0c4a80" stroke-width="1.5" fill="none" stroke-linejoin="miter" stroke-linecap="butt"/>
<line x1="340.5" y1="217.20000000000002" x2="340.5" y2="220.6" stroke="#0c4a80" stroke-width="1.1"/>
<line x1="348" y1="217.20000000000002" x2="348" y2="220.6" stroke="#0c4a80" stroke-width="1.1"/>
<line x1="371.5" y1="225.5" x2="371.5" y2="228.89999999999998" stroke="#0c4a80" stroke-width="1.1"/>
<line x1="393.8" y1="225.5" x2="393.8" y2="228.89999999999998" stroke="#0c4a80" stroke-width="1.1"/>
<line x1="400.5" y1="225.5" x2="400.5" y2="228.89999999999998" stroke="#0c4a80" stroke-width="1.1"/>
<line x1="419.7" y1="227.5" x2="419.7" y2="230.89999999999998" stroke="#0c4a80" stroke-width="1.1"/>
<line x1="469.2" y1="232.60000000000002" x2="469.2" y2="236.0" stroke="#0c4a80" stroke-width="1.1"/>
<line x1="472.2" y1="232.60000000000002" x2="472.2" y2="236.0" stroke="#0c4a80" stroke-width="1.1"/>
<line x1="474.4" y1="232.60000000000002" x2="474.4" y2="236.0" stroke="#0c4a80" stroke-width="1.1"/>
<line x1="477" y1="232.60000000000002" x2="477" y2="236.0" stroke="#0c4a80" stroke-width="1.1"/>
<line x1="479" y1="232.60000000000002" x2="479" y2="236.0" stroke="#0c4a80" stroke-width="1.1"/>
<line x1="482.2" y1="232.60000000000002" x2="482.2" y2="236.0" stroke="#0c4a80" stroke-width="1.1"/>
<line x1="485.3" y1="232.60000000000002" x2="485.3" y2="236.0" stroke="#0c4a80" stroke-width="1.1"/>
<line x1="487.3" y1="232.60000000000002" x2="487.3" y2="236.0" stroke="#0c4a80" stroke-width="1.1"/>
<line x1="489.7" y1="232.60000000000002" x2="489.7" y2="236.0" stroke="#0c4a80" stroke-width="1.1"/>
<line x1="494.7" y1="232.60000000000002" x2="494.7" y2="236.0" stroke="#0c4a80" stroke-width="1.1"/>
<line x1="500.5" y1="232.60000000000002" x2="500.5" y2="236.0" stroke="#0c4a80" stroke-width="1.1"/>
<line x1="503" y1="232.60000000000002" x2="503" y2="236.0" stroke="#0c4a80" stroke-width="1.1"/>
<line x1="506.7" y1="232.60000000000002" x2="506.7" y2="236.0" stroke="#0c4a80" stroke-width="1.1"/>
<line x1="316.4" y1="214.6" x2="316.4" y2="334.6" stroke="#1a1a1a" stroke-width="1.45"/>
<line x1="315.75" y1="334.0" x2="512.2" y2="334.0" stroke="#1a1a1a" stroke-width="1.45"/>
<line x1="313.2" y1="216.9" x2="316.4" y2="216.9" stroke="#1a1a1a" stroke-width="1"/>
<line x1="313.2" y1="227.77" x2="316.4" y2="227.77" stroke="#1a1a1a" stroke-width="1"/>
<line x1="313.2" y1="238.64000000000001" x2="316.4" y2="238.64000000000001" stroke="#1a1a1a" stroke-width="1"/>
<line x1="313.2" y1="249.51" x2="316.4" y2="249.51" stroke="#1a1a1a" stroke-width="1"/>
<line x1="313.2" y1="260.38" x2="316.4" y2="260.38" stroke="#1a1a1a" stroke-width="1"/>
<line x1="313.2" y1="271.25" x2="316.4" y2="271.25" stroke="#1a1a1a" stroke-width="1"/>
<line x1="313.2" y1="282.12" x2="316.4" y2="282.12" stroke="#1a1a1a" stroke-width="1"/>
<line x1="313.2" y1="292.99" x2="316.4" y2="292.99" stroke="#1a1a1a" stroke-width="1"/>
<line x1="313.2" y1="303.86" x2="316.4" y2="303.86" stroke="#1a1a1a" stroke-width="1"/>
<line x1="313.2" y1="314.73" x2="316.4" y2="314.73" stroke="#1a1a1a" stroke-width="1"/>
<line x1="313.2" y1="325.6" x2="316.4" y2="325.6" stroke="#1a1a1a" stroke-width="1"/>
<line x1="318.3" y1="334.0" x2="318.3" y2="337.4" stroke="#1a1a1a" stroke-width="1"/>
<line x1="331.85" y1="334.0" x2="331.85" y2="337.4" stroke="#1a1a1a" stroke-width="1"/>
<line x1="345.40000000000003" y1="334.0" x2="345.40000000000003" y2="337.4" stroke="#1a1a1a" stroke-width="1"/>
<line x1="358.95000000000005" y1="334.0" x2="358.95000000000005" y2="337.4" stroke="#1a1a1a" stroke-width="1"/>
<line x1="372.5" y1="334.0" x2="372.5" y2="337.4" stroke="#1a1a1a" stroke-width="1"/>
<line x1="386.05" y1="334.0" x2="386.05" y2="337.4" stroke="#1a1a1a" stroke-width="1"/>
<line x1="399.6" y1="334.0" x2="399.6" y2="337.4" stroke="#1a1a1a" stroke-width="1"/>
<line x1="413.15000000000003" y1="334.0" x2="413.15000000000003" y2="337.4" stroke="#1a1a1a" stroke-width="1"/>
<line x1="426.70000000000005" y1="334.0" x2="426.70000000000005" y2="337.4" stroke="#1a1a1a" stroke-width="1"/>
<line x1="440.25" y1="334.0" x2="440.25" y2="337.4" stroke="#1a1a1a" stroke-width="1"/>
<line x1="453.8" y1="334.0" x2="453.8" y2="337.4" stroke="#1a1a1a" stroke-width="1"/>
<line x1="467.35" y1="334.0" x2="467.35" y2="337.4" stroke="#1a1a1a" stroke-width="1"/>
<line x1="480.90000000000003" y1="334.0" x2="480.90000000000003" y2="337.4" stroke="#1a1a1a" stroke-width="1"/>
<line x1="494.45000000000005" y1="334.0" x2="494.45000000000005" y2="337.4" stroke="#1a1a1a" stroke-width="1"/>
<line x1="508.0" y1="334.0" x2="508.0" y2="337.4" stroke="#1a1a1a" stroke-width="1"/>
<text transform="translate(310.9,219.95000000000002) scale(0.92,1)" x="0" y="0" font-size="8.6" fill="#231f20" stroke="#231f20" stroke-width="0.26" text-anchor="end" font-weight="normal">100</text>
<text transform="translate(310.9,230.82000000000002) scale(0.92,1)" x="0" y="0" font-size="8.6" fill="#231f20" stroke="#231f20" stroke-width="0.26" text-anchor="end" font-weight="normal">90</text>
<text transform="translate(310.9,241.69000000000003) scale(0.92,1)" x="0" y="0" font-size="8.6" fill="#231f20" stroke="#231f20" stroke-width="0.26" text-anchor="end" font-weight="normal">80</text>
<text transform="translate(310.9,252.56) scale(0.92,1)" x="0" y="0" font-size="8.6" fill="#231f20" stroke="#231f20" stroke-width="0.26" text-anchor="end" font-weight="normal">70</text>
<text transform="translate(310.9,263.43) scale(0.92,1)" x="0" y="0" font-size="8.6" fill="#231f20" stroke="#231f20" stroke-width="0.26" text-anchor="end" font-weight="normal">60</text>
<text transform="translate(310.9,274.3) scale(0.92,1)" x="0" y="0" font-size="8.6" fill="#231f20" stroke="#231f20" stroke-width="0.26" text-anchor="end" font-weight="normal">50</text>
<text transform="translate(310.9,285.17) scale(0.92,1)" x="0" y="0" font-size="8.6" fill="#231f20" stroke="#231f20" stroke-width="0.26" text-anchor="end" font-weight="normal">40</text>
<text transform="translate(310.9,296.04) scale(0.92,1)" x="0" y="0" font-size="8.6" fill="#231f20" stroke="#231f20" stroke-width="0.26" text-anchor="end" font-weight="normal">30</text>
<text transform="translate(310.9,306.91) scale(0.92,1)" x="0" y="0" font-size="8.6" fill="#231f20" stroke="#231f20" stroke-width="0.26" text-anchor="end" font-weight="normal">20</text>
<text transform="translate(310.9,317.78000000000003) scale(0.92,1)" x="0" y="0" font-size="8.6" fill="#231f20" stroke="#231f20" stroke-width="0.26" text-anchor="end" font-weight="normal">10</text>
<text transform="translate(310.9,328.65000000000003) scale(0.92,1)" x="0" y="0" font-size="8.6" fill="#231f20" stroke="#231f20" stroke-width="0.26" text-anchor="end" font-weight="normal">0</text>
<text transform="translate(318.3,346.5) scale(0.92,1)" x="0" y="0" font-size="8.6" fill="#231f20" stroke="#231f20" stroke-width="0.26" text-anchor="middle" font-weight="normal">0</text>
<text transform="translate(331.85,346.5) scale(0.92,1)" x="0" y="0" font-size="8.6" fill="#231f20" stroke="#231f20" stroke-width="0.26" text-anchor="middle" font-weight="normal">3</text>
<text transform="translate(345.40000000000003,346.5) scale(0.92,1)" x="0" y="0" font-size="8.6" fill="#231f20" stroke="#231f20" stroke-width="0.26" text-anchor="middle" font-weight="normal">6</text>
<text transform="translate(358.95000000000005,346.5) scale(0.92,1)" x="0" y="0" font-size="8.6" fill="#231f20" stroke="#231f20" stroke-width="0.26" text-anchor="middle" font-weight="normal">9</text>
<text transform="translate(372.5,346.5) scale(0.92,1)" x="0" y="0" font-size="8.6" fill="#231f20" stroke="#231f20" stroke-width="0.26" text-anchor="middle" font-weight="normal">12</text>
<text transform="translate(386.05,346.5) scale(0.92,1)" x="0" y="0" font-size="8.6" fill="#231f20" stroke="#231f20" stroke-width="0.26" text-anchor="middle" font-weight="normal">15</text>
<text transform="translate(399.6,346.5) scale(0.92,1)" x="0" y="0" font-size="8.6" fill="#231f20" stroke="#231f20" stroke-width="0.26" text-anchor="middle" font-weight="normal">18</text>
<text transform="translate(413.15000000000003,346.5) scale(0.92,1)" x="0" y="0" font-size="8.6" fill="#231f20" stroke="#231f20" stroke-width="0.26" text-anchor="middle" font-weight="normal">21</text>
<text transform="translate(426.70000000000005,346.5) scale(0.92,1)" x="0" y="0" font-size="8.6" fill="#231f20" stroke="#231f20" stroke-width="0.26" text-anchor="middle" font-weight="normal">24</text>
<text transform="translate(440.25,346.5) scale(0.92,1)" x="0" y="0" font-size="8.6" fill="#231f20" stroke="#231f20" stroke-width="0.26" text-anchor="middle" font-weight="normal">27</text>
<text transform="translate(453.8,346.5) scale(0.92,1)" x="0" y="0" font-size="8.6" fill="#231f20" stroke="#231f20" stroke-width="0.26" text-anchor="middle" font-weight="normal">30</text>
<text transform="translate(467.35,346.5) scale(0.92,1)" x="0" y="0" font-size="8.6" fill="#231f20" stroke="#231f20" stroke-width="0.26" text-anchor="middle" font-weight="normal">33</text>
<text transform="translate(480.90000000000003,346.5) scale(0.92,1)" x="0" y="0" font-size="8.6" fill="#231f20" stroke="#231f20" stroke-width="0.26" text-anchor="middle" font-weight="normal">36</text>
<text transform="translate(494.45000000000005,346.5) scale(0.92,1)" x="0" y="0" font-size="8.6" fill="#231f20" stroke="#231f20" stroke-width="0.26" text-anchor="middle" font-weight="normal">39</text>
<text transform="translate(508.0,346.5) scale(0.92,1)" x="0" y="0" font-size="8.6" fill="#231f20" stroke="#231f20" stroke-width="0.26" text-anchor="middle" font-weight="normal">42</text>
<text x="283.8" y="213.9" font-size="11" fill="#231f20" stroke="#231f20" stroke-width="0.22" text-anchor="start" font-weight="bold" textLength="8.0" lengthAdjust="spacingAndGlyphs">D</text>
<text transform="translate(292.0,275.0) rotate(-90)" x="0" y="0" font-size="9.4" fill="#231f20" stroke="#231f20" stroke-width="0.2" text-anchor="middle" textLength="63.6" lengthAdjust="spacingAndGlyphs">Overall survival (%)</text>
<text x="400.0" y="358.8" font-size="9.4" fill="#231f20" stroke="#231f20" stroke-width="0.2" text-anchor="start" font-weight="normal" textLength="25.2" lengthAdjust="spacingAndGlyphs">Months</text>
<line x1="322.2" y1="297.0" x2="326.6" y2="297.0" stroke="#0c4a80" stroke-width="1.5"/>
<line x1="322.2" y1="306.25" x2="326.6" y2="306.25" stroke="#c82f50" stroke-width="1.5"/>
<line x1="322.2" y1="315.5" x2="326.6" y2="315.5" stroke="#3cb44b" stroke-width="1.5"/>
<text x="328.9" y="299.7" font-size="7.5" fill="#231f20" stroke="#231f20" stroke-width="0.26" text-anchor="start" font-weight="normal" textLength="9.0" lengthAdjust="spacingAndGlyphs">CR</text>
<text x="328.9" y="308.9" font-size="7.5" fill="#231f20" stroke="#231f20" stroke-width="0.26" text-anchor="start" font-weight="normal" textLength="8.6" lengthAdjust="spacingAndGlyphs">PR</text>
<text x="328.9" y="318.2" font-size="7.5" fill="#231f20" stroke="#231f20" stroke-width="0.26" text-anchor="start" font-weight="normal" textLength="22.0" lengthAdjust="spacingAndGlyphs">SD/PD</text>
<path d="M322.8,325.0 H326.2 M324.5,323.3 V326.7" stroke="#231f20" stroke-width="0.9" fill="none"/>
<rect x="323.6" y="324.1" width="1.8" height="1.8" fill="#231f20"/>
<text x="328.9" y="327.4" font-size="7.5" fill="#231f20" stroke="#231f20" stroke-width="0.26" text-anchor="start" font-weight="normal" textLength="31.8" lengthAdjust="spacingAndGlyphs">Censored</text>
<text x="288.5" y="369.3" font-size="8.5" fill="#231f20" stroke="#231f20" stroke-width="0.22" text-anchor="start" font-weight="bold" textLength="80.0" lengthAdjust="spacingAndGlyphs">No. of patients at risk</text>
<text x="303.3" y="380.8" font-size="8.7" fill="#2f67a0" stroke="#2f67a0" stroke-width="0.22" text-anchor="end" font-weight="bold" textLength="10.0" lengthAdjust="spacingAndGlyphs">CR</text>
<text x="303.3" y="392.1" font-size="8.7" fill="#c82f50" stroke="#c82f50" stroke-width="0.22" text-anchor="end" font-weight="bold" textLength="9.4" lengthAdjust="spacingAndGlyphs">PR</text>
<text x="303.3" y="403.4" font-size="8.7" fill="#3cb44b" stroke="#3cb44b" stroke-width="0.22" text-anchor="end" font-weight="bold" textLength="24.1" lengthAdjust="spacingAndGlyphs">SD/PD</text>
<text transform="translate(318.3,380.8) scale(0.95,1)" x="0" y="0" font-size="8.4" fill="#2f67a0" stroke="#2f67a0" stroke-width="0.26" text-anchor="middle" font-weight="normal">67</text>
<text transform="translate(331.85,380.8) scale(0.95,1)" x="0" y="0" font-size="8.4" fill="#2f67a0" stroke="#2f67a0" stroke-width="0.26" text-anchor="middle" font-weight="normal">67</text>
<text transform="translate(345.40000000000003,380.8) scale(0.95,1)" x="0" y="0" font-size="8.4" fill="#2f67a0" stroke="#2f67a0" stroke-width="0.26" text-anchor="middle" font-weight="normal">66</text>
<text transform="translate(358.95000000000005,380.8) scale(0.95,1)" x="0" y="0" font-size="8.4" fill="#2f67a0" stroke="#2f67a0" stroke-width="0.26" text-anchor="middle" font-weight="normal">64</text>
<text transform="translate(372.5,380.8) scale(0.95,1)" x="0" y="0" font-size="8.4" fill="#2f67a0" stroke="#2f67a0" stroke-width="0.26" text-anchor="middle" font-weight="normal">59</text>
<text transform="translate(386.05,380.8) scale(0.95,1)" x="0" y="0" font-size="8.4" fill="#2f67a0" stroke="#2f67a0" stroke-width="0.26" text-anchor="middle" font-weight="normal">59</text>
<text transform="translate(399.6,380.8) scale(0.95,1)" x="0" y="0" font-size="8.4" fill="#2f67a0" stroke="#2f67a0" stroke-width="0.26" text-anchor="middle" font-weight="normal">57</text>
<text transform="translate(413.15000000000003,380.8) scale(0.95,1)" x="0" y="0" font-size="8.4" fill="#2f67a0" stroke="#2f67a0" stroke-width="0.26" text-anchor="middle" font-weight="normal">55</text>
<text transform="translate(426.70000000000005,380.8) scale(0.95,1)" x="0" y="0" font-size="8.4" fill="#2f67a0" stroke="#2f67a0" stroke-width="0.26" text-anchor="middle" font-weight="normal">54</text>
<text transform="translate(440.25,380.8) scale(0.95,1)" x="0" y="0" font-size="8.4" fill="#2f67a0" stroke="#2f67a0" stroke-width="0.26" text-anchor="middle" font-weight="normal">53</text>
<text transform="translate(453.8,380.8) scale(0.95,1)" x="0" y="0" font-size="8.4" fill="#2f67a0" stroke="#2f67a0" stroke-width="0.26" text-anchor="middle" font-weight="normal">53</text>
<text transform="translate(467.35,380.8) scale(0.95,1)" x="0" y="0" font-size="8.4" fill="#2f67a0" stroke="#2f67a0" stroke-width="0.26" text-anchor="middle" font-weight="normal">51</text>
<text transform="translate(480.90000000000003,380.8) scale(0.95,1)" x="0" y="0" font-size="8.4" fill="#2f67a0" stroke="#2f67a0" stroke-width="0.26" text-anchor="middle" font-weight="normal">35</text>
<text transform="translate(494.45000000000005,380.8) scale(0.95,1)" x="0" y="0" font-size="8.4" fill="#2f67a0" stroke="#2f67a0" stroke-width="0.26" text-anchor="middle" font-weight="normal">7</text>
<text transform="translate(508.0,380.8) scale(0.95,1)" x="0" y="0" font-size="8.4" fill="#2f67a0" stroke="#2f67a0" stroke-width="0.26" text-anchor="middle" font-weight="normal">0</text>
<text transform="translate(318.3,392.1) scale(0.95,1)" x="0" y="0" font-size="8.4" fill="#c82f50" stroke="#c82f50" stroke-width="0.26" text-anchor="middle" font-weight="normal">5</text>
<text transform="translate(331.85,392.1) scale(0.95,1)" x="0" y="0" font-size="8.4" fill="#c82f50" stroke="#c82f50" stroke-width="0.26" text-anchor="middle" font-weight="normal">5</text>
<text transform="translate(345.40000000000003,392.1) scale(0.95,1)" x="0" y="0" font-size="8.4" fill="#c82f50" stroke="#c82f50" stroke-width="0.26" text-anchor="middle" font-weight="normal">5</text>
<text transform="translate(358.95000000000005,392.1) scale(0.95,1)" x="0" y="0" font-size="8.4" fill="#c82f50" stroke="#c82f50" stroke-width="0.26" text-anchor="middle" font-weight="normal">4</text>
<text transform="translate(372.5,392.1) scale(0.95,1)" x="0" y="0" font-size="8.4" fill="#c82f50" stroke="#c82f50" stroke-width="0.26" text-anchor="middle" font-weight="normal">3</text>
<text transform="translate(386.05,392.1) scale(0.95,1)" x="0" y="0" font-size="8.4" fill="#c82f50" stroke="#c82f50" stroke-width="0.26" text-anchor="middle" font-weight="normal">3</text>
<text transform="translate(399.6,392.1) scale(0.95,1)" x="0" y="0" font-size="8.4" fill="#c82f50" stroke="#c82f50" stroke-width="0.26" text-anchor="middle" font-weight="normal">3</text>
<text transform="translate(413.15000000000003,392.1) scale(0.95,1)" x="0" y="0" font-size="8.4" fill="#c82f50" stroke="#c82f50" stroke-width="0.26" text-anchor="middle" font-weight="normal">3</text>
<text transform="translate(426.70000000000005,392.1) scale(0.95,1)" x="0" y="0" font-size="8.4" fill="#c82f50" stroke="#c82f50" stroke-width="0.26" text-anchor="middle" font-weight="normal">3</text>
<text transform="translate(440.25,392.1) scale(0.95,1)" x="0" y="0" font-size="8.4" fill="#c82f50" stroke="#c82f50" stroke-width="0.26" text-anchor="middle" font-weight="normal">2</text>
<text transform="translate(453.8,392.1) scale(0.95,1)" x="0" y="0" font-size="8.4" fill="#c82f50" stroke="#c82f50" stroke-width="0.26" text-anchor="middle" font-weight="normal">2</text>
<text transform="translate(467.35,392.1) scale(0.95,1)" x="0" y="0" font-size="8.4" fill="#c82f50" stroke="#c82f50" stroke-width="0.26" text-anchor="middle" font-weight="normal">2</text>
<text transform="translate(480.90000000000003,392.1) scale(0.95,1)" x="0" y="0" font-size="8.4" fill="#c82f50" stroke="#c82f50" stroke-width="0.26" text-anchor="middle" font-weight="normal">2</text>
<text transform="translate(494.45000000000005,392.1) scale(0.95,1)" x="0" y="0" font-size="8.4" fill="#c82f50" stroke="#c82f50" stroke-width="0.26" text-anchor="middle" font-weight="normal">0</text>
<text transform="translate(508.0,392.1) scale(0.95,1)" x="0" y="0" font-size="8.4" fill="#c82f50" stroke="#c82f50" stroke-width="0.26" text-anchor="middle" font-weight="normal">0</text>
<text transform="translate(318.3,403.3) scale(0.95,1)" x="0" y="0" font-size="8.4" fill="#3cb44b" stroke="#3cb44b" stroke-width="0.26" text-anchor="middle" font-weight="normal">9</text>
<text transform="translate(331.85,403.3) scale(0.95,1)" x="0" y="0" font-size="8.4" fill="#3cb44b" stroke="#3cb44b" stroke-width="0.26" text-anchor="middle" font-weight="normal">7</text>
<text transform="translate(345.40000000000003,403.3) scale(0.95,1)" x="0" y="0" font-size="8.4" fill="#3cb44b" stroke="#3cb44b" stroke-width="0.26" text-anchor="middle" font-weight="normal">5</text>
<text transform="translate(358.95000000000005,403.3) scale(0.95,1)" x="0" y="0" font-size="8.4" fill="#3cb44b" stroke="#3cb44b" stroke-width="0.26" text-anchor="middle" font-weight="normal">3</text>
<text transform="translate(372.5,403.3) scale(0.95,1)" x="0" y="0" font-size="8.4" fill="#3cb44b" stroke="#3cb44b" stroke-width="0.26" text-anchor="middle" font-weight="normal">3</text>
<text transform="translate(386.05,403.3) scale(0.95,1)" x="0" y="0" font-size="8.4" fill="#3cb44b" stroke="#3cb44b" stroke-width="0.26" text-anchor="middle" font-weight="normal">2</text>
<text transform="translate(399.6,403.3) scale(0.95,1)" x="0" y="0" font-size="8.4" fill="#3cb44b" stroke="#3cb44b" stroke-width="0.26" text-anchor="middle" font-weight="normal">1</text>
<text transform="translate(413.15000000000003,403.3) scale(0.95,1)" x="0" y="0" font-size="8.4" fill="#3cb44b" stroke="#3cb44b" stroke-width="0.26" text-anchor="middle" font-weight="normal">1</text>
<text transform="translate(426.70000000000005,403.3) scale(0.95,1)" x="0" y="0" font-size="8.4" fill="#3cb44b" stroke="#3cb44b" stroke-width="0.26" text-anchor="middle" font-weight="normal">1</text>
<text transform="translate(440.25,403.3) scale(0.95,1)" x="0" y="0" font-size="8.4" fill="#3cb44b" stroke="#3cb44b" stroke-width="0.26" text-anchor="middle" font-weight="normal">1</text>
<text transform="translate(453.8,403.3) scale(0.95,1)" x="0" y="0" font-size="8.4" fill="#3cb44b" stroke="#3cb44b" stroke-width="0.26" text-anchor="middle" font-weight="normal">1</text>
<text transform="translate(467.35,403.3) scale(0.95,1)" x="0" y="0" font-size="8.4" fill="#3cb44b" stroke="#3cb44b" stroke-width="0.26" text-anchor="middle" font-weight="normal">1</text>
<text transform="translate(480.90000000000003,403.3) scale(0.95,1)" x="0" y="0" font-size="8.4" fill="#3cb44b" stroke="#3cb44b" stroke-width="0.26" text-anchor="middle" font-weight="normal">0</text>
<text transform="translate(494.45000000000005,403.3) scale(0.95,1)" x="0" y="0" font-size="8.4" fill="#3cb44b" stroke="#3cb44b" stroke-width="0.26" text-anchor="middle" font-weight="normal">0</text>
<text transform="translate(508.0,403.3) scale(0.95,1)" x="0" y="0" font-size="8.4" fill="#3cb44b" stroke="#3cb44b" stroke-width="0.26" text-anchor="middle" font-weight="normal">0</text>
<rect x="0" y="0" width="1.15" height="410" fill="#111"/><rect x="0" y="0" width="520" height="1.15" fill="#111"/><rect x="518.6" y="0" width="1.4" height="410" fill="#111"/><rect x="0" y="408.4" width="520" height="1.6" fill="#111"/>
</svg></body></html>
